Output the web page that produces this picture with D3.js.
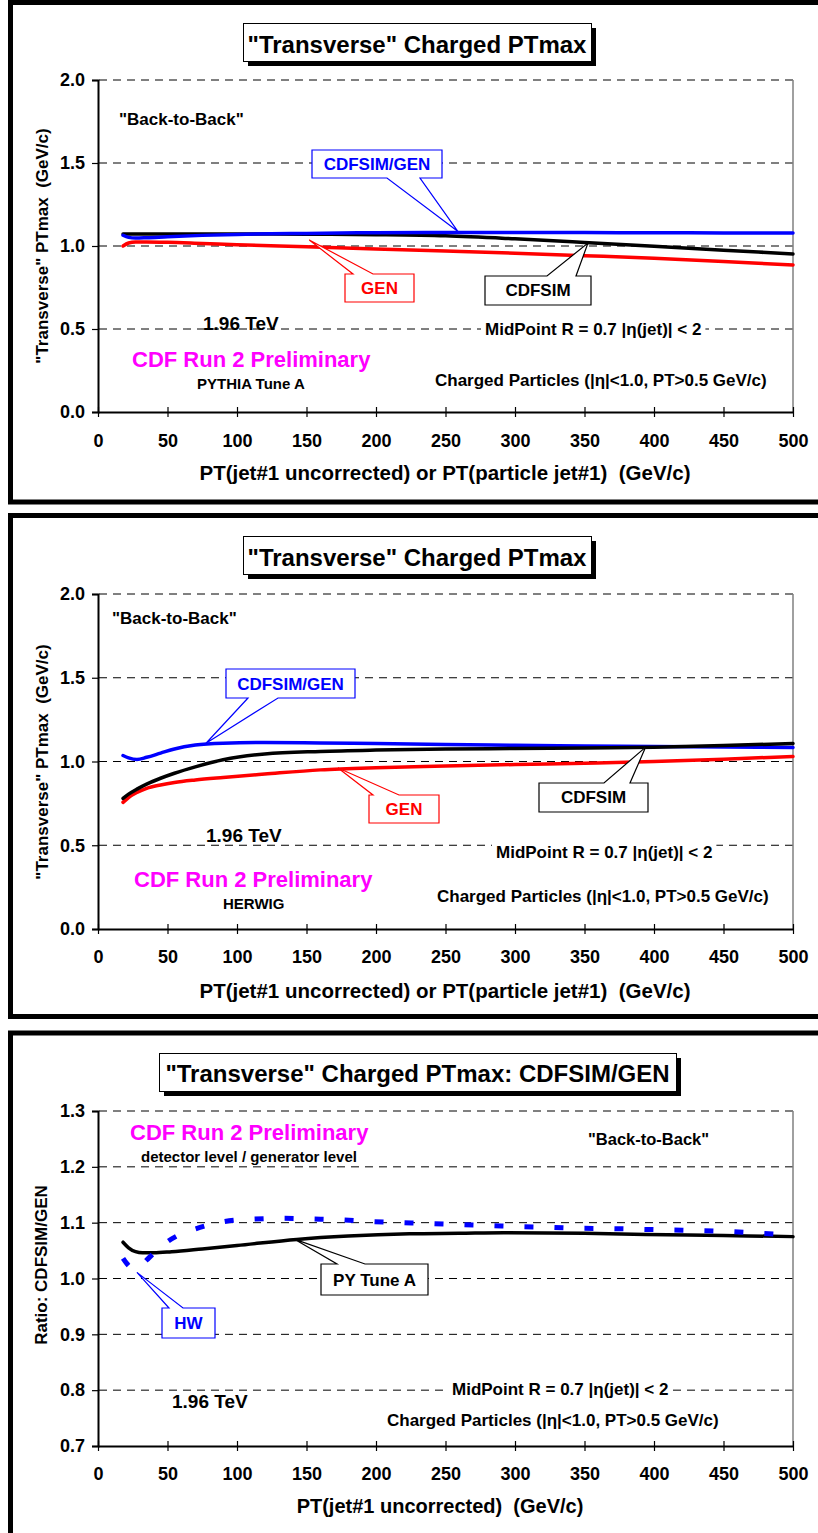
<!DOCTYPE html>
<html>
<head>
<meta charset="utf-8">
<script src="https://cdn.jsdelivr.net/npm/d3@7"></script>
<style>
  body { margin: 0; background: #fff; }
  svg text { font-family: "Liberation Sans", Arial, Helvetica, sans-serif; font-weight: bold; white-space: pre; }
</style>
</head>
<body>
<svg id="chart" width="818" height="1533"></svg>
<script>
// ---- shared axis values ----
const xTickValues = [0, 50, 100, 150, 200, 250, 300, 350, 400, 450, 500];
const ptmaxTicks = [0.0, 0.5, 1.0, 1.5, 2.0];
const ratioTicks = [0.7, 0.8, 0.9, 1.0, 1.1, 1.2, 1.3];

// ---- PYTHIA Tune A: PTmax vs leading jet PT ----
const ptPythia = [18, 22, 27, 35, 50, 75, 100, 150, 200, 250, 300, 350, 400, 450, 500];
const pythiaRatio = [1.065, 1.052, 1.048, 1.050, 1.056, 1.064, 1.070, 1.076, 1.080, 1.082, 1.082, 1.081, 1.080, 1.079, 1.078];
const pythiaCdfsim = [1.072, 1.072, 1.072, 1.072, 1.073, 1.073, 1.072, 1.071, 1.068, 1.061, 1.043, 1.021, 0.998, 0.975, 0.952];
const pythiaGen = [1.000, 1.018, 1.024, 1.024, 1.022, 1.015, 1.008, 0.995, 0.982, 0.970, 0.957, 0.942, 0.926, 0.906, 0.886];

// ---- HERWIG: PTmax vs leading jet PT ----
const ptHerwig = [18, 22, 28, 35, 45, 55, 70, 90, 120, 160, 200, 250, 300, 350, 400, 450, 500];
const herwigRatio = [1.036, 1.022, 1.012, 1.025, 1.050, 1.075, 1.098, 1.109, 1.113, 1.111, 1.107, 1.102, 1.097, 1.093, 1.090, 1.087, 1.084];
const herwigCdfsim = [0.780, 0.805, 0.835, 0.865, 0.900, 0.930, 0.968, 1.010, 1.045, 1.060, 1.068, 1.074, 1.078, 1.081, 1.085, 1.095, 1.108];
const herwigGen = [0.756, 0.785, 0.815, 0.840, 0.860, 0.875, 0.890, 0.905, 0.925, 0.950, 0.963, 0.973, 0.982, 0.990, 1.000, 1.014, 1.030];

// ---- CDFSIM/GEN ratio comparison ----
const ptRatioHW = [18, 21, 25, 30, 35, 42, 50, 60, 69, 80, 91, 112, 133, 154, 177, 198, 219, 241, 262, 284, 305, 326, 348, 370, 391, 413, 434, 456, 477, 500];
const ratioHW = [1.036, 1.026, 1.018, 1.021, 1.033, 1.050, 1.066, 1.080, 1.088, 1.096, 1.102, 1.1065, 1.1077, 1.1065, 1.1048, 1.1018, 1.100, 1.0982, 1.0964, 1.0946, 1.0929, 1.0917, 1.0899, 1.0893, 1.0881, 1.0869, 1.0857, 1.0839, 1.081, 1.078];
const ptRatioPY = [18, 22, 27, 32, 40, 53, 75, 100, 143, 180, 224, 260, 292, 350, 394, 450, 500];
const ratioPY = [1.065, 1.055, 1.048, 1.046, 1.046, 1.048, 1.053, 1.059, 1.070, 1.076, 1.080, 1.081, 1.082, 1.081, 1.079, 1.077, 1.075];

const BLUE = "#0000ff", RED = "#ff0000", MAGENTA = "#ff00ff";
const svg = d3.select("#chart");
const zip = (xs, ys) => xs.map((v, i) => [v, ys[i]]);

// Outer chart frames (thick black borders, running off the right edge)
[[2.5, 499.5], [515.5, 501], [1033, 560]].forEach(([top, h]) => {
  svg.append("rect").attr("x", 10.5).attr("y", top).attr("width", 900).attr("height", h)
    .attr("fill", "none").attr("stroke", "#000").attr("stroke-width", 5);
});

function text(g, x, y, str, size, opts = {}) {
  const t = g.append("text").attr("x", x).attr("y", y).text(str)
    .attr("font-size", size).attr("fill", opts.color || "#000")
    .attr("text-anchor", opts.anchor || "start");
  if (opts.fit) t.attr("textLength", opts.fit).attr("lengthAdjust", "spacingAndGlyphs");
  return t;
}

function labelWithBackground(g, x, y, str, size) {
  const grp = g.append("g");
  const r = grp.append("rect").attr("fill", "#fff");
  const t = text(grp, x, y, str, size);
  const bb = t.node().getBBox();
  r.attr("x", bb.x - 4).attr("y", bb.y).attr("width", bb.width + 8).attr("height", bb.height);
}

function titleBox(g, box, str, baseline) {
  const [bx, by, bw, bh] = box;
  g.append("rect").attr("x", bx + 5).attr("y", by + 5).attr("width", bw).attr("height", bh).attr("fill", "#000");
  g.append("rect").attr("x", bx + 0.5).attr("y", by + 0.5).attr("width", bw).attr("height", bh)
    .attr("fill", "#fff").attr("stroke", "#000").attr("stroke-width", 1);
  text(g, bx + bw / 2, baseline, str, 24, { anchor: "middle" });
}

// Rectangular callout with a wedge pointing at a data location
function callout(g, c, x, y) {
  const [bx, by, bw, bh] = c.box;
  const [tx, ty] = [x(c.tip[0]), y(c.tip[1])];
  const [b1, b2] = c.base;
  let d;
  if (c.side === "bottom") {
    d = `M${bx},${by}H${bx + bw}V${by + bh}H${b2}L${tx},${ty}L${b1},${by + bh}H${bx}Z`;
  } else {
    d = `M${bx},${by}H${b1}L${tx},${ty}L${b2},${by}H${bx + bw}V${by + bh}H${bx}Z`;
  }
  g.append("path").attr("d", d).attr("fill", "#fff").attr("stroke", c.color)
    .attr("stroke-width", 1.2).attr("stroke-linejoin", "miter");
  text(g, bx + bw / 2, c.baseline, c.text, 17, { anchor: "middle", color: c.color });
}

function panel(cfg) {
  const g = svg.append("g");
  const x = d3.scaleLinear().domain([0, 500]).range([98, 793]);
  const y = d3.scaleLinear().domain(cfg.yDomain).range([cfg.bottom, cfg.top]);

  // dashed gridlines
  g.append("g").selectAll("line").data(cfg.yTicks.slice(1)).join("line")
    .attr("x1", 99).attr("x2", 793).attr("y1", d => y(d)).attr("y2", d => y(d))
    .attr("stroke", "#000").attr("stroke-width", 1).attr("stroke-dasharray", "8,6");
  // right edge of plot area
  g.append("line").attr("x1", 793).attr("x2", 793).attr("y1", cfg.top).attr("y2", cfg.bottom)
    .attr("stroke", "#808080").attr("stroke-width", 1.5);

  // y axis
  const ya = g.append("g").attr("transform", "translate(98,0)")
    .call(d3.axisLeft(y).tickValues(cfg.yTicks).tickFormat(d3.format(".1f")).tickSize(6).tickPadding(7));
  ya.select(".domain").attr("stroke", "#000").attr("stroke-width", 2);
  ya.selectAll(".tick line").attr("stroke", "#000").attr("stroke-width", 1.2);
  ya.selectAll(".tick text").attr("font-size", 18).attr("font-family", null).attr("fill", "#000");

  // x axis (ticks cross the axis line)
  const xa = g.append("g").attr("transform", `translate(0,${cfg.bottom})`)
    .call(d3.axisBottom(x).tickValues(xTickValues).tickSize(5).tickSizeOuter(0));
  xa.select(".domain").attr("stroke", "#000").attr("stroke-width", 2);
  xa.selectAll(".tick line").attr("y1", -5).attr("y2", 5).attr("stroke", "#000").attr("stroke-width", 1.2);
  xa.selectAll(".tick text").attr("font-size", 18).attr("font-family", null).attr("fill", "#000")
    .attr("y", cfg.tickBaseline - cfg.bottom).attr("dy", 0);

  // axis titles
  text(g, cfg.xTitleX, cfg.xTitleBaseline, cfg.xTitle, cfg.xTitleSize, { anchor: "middle" });
  text(g, 0, 0, cfg.yTitle, cfg.yTitleSize, { anchor: "middle" })
    .attr("transform", `translate(${cfg.yTitleX},${cfg.yTitleY}) rotate(-90)`);

  // data lines
  const line = d3.line().x(d => x(d[0])).y(d => y(d[1])).curve(d3.curveMonotoneX);
  cfg.series.forEach(s => {
    g.append("path").datum(zip(s.x, s.y)).attr("d", line).attr("fill", "none")
      .attr("stroke", s.color).attr("stroke-width", s.width || 3.5)
      .attr("stroke-dasharray", s.dash || null)
      .attr("stroke-linecap", s.dash ? "butt" : "round").attr("stroke-linejoin", "round");
  });

  titleBox(g, cfg.titleBox, cfg.title, cfg.titleBaseline);
  cfg.labels.forEach(l => {
    if (l.bg) labelWithBackground(g, l.x, l.y, l.t, l.s);
    else text(g, l.x, l.y, l.t, l.s, { color: l.c });
  });
  cfg.callouts.forEach(c => callout(g, c, x, y));
}

const midPoint = "MidPoint R = 0.7 |\u03b7(jet)| < 2";
const charged = "Charged Particles (|\u03b7|<1.0, PT>0.5 GeV/c)";
const xTitleFull = "PT(jet#1 uncorrected) or PT(particle jet#1)  (GeV/c)";

// PYTHIA Tune A
panel({
  yDomain: [0, 2], yTicks: ptmaxTicks, top: 80, bottom: 412, tickBaseline: 447,
  xTitle: xTitleFull, xTitleX: 445, xTitleBaseline: 480, xTitleSize: 20.5,
  yTitle: "\"Transverse\" PTmax  (GeV/c)", yTitleX: 48, yTitleY: 246, yTitleSize: 17,
  title: "\"Transverse\" Charged PTmax", titleBox: [243, 23, 348, 38], titleBaseline: 53,
  series: [
    { x: ptPythia, y: pythiaGen, color: RED },
    { x: ptPythia, y: pythiaCdfsim, color: "#000" },
    { x: ptPythia, y: pythiaRatio, color: BLUE }
  ],
  labels: [
    { x: 119, y: 125, t: "\"Back-to-Back\"", s: 17 },
    { x: 203, y: 330, t: "1.96 TeV", s: 19 },
    { x: 485, y: 335, t: midPoint, s: 17, bg: true },
    { x: 132, y: 367, t: "CDF Run 2 Preliminary", s: 22, c: MAGENTA },
    { x: 197, y: 389, t: "PYTHIA Tune A", s: 15 },
    { x: 435, y: 386, t: charged, s: 17 }
  ],
  callouts: [
    { box: [312, 150, 130, 28], side: "bottom", base: [387, 420], tip: [259, 1.087], color: BLUE, text: "CDFSIM/GEN", baseline: 170 },
    { box: [345, 274, 69, 28], side: "top", base: [353, 373], tip: [152, 1.036], color: RED, text: "GEN", baseline: 294 },
    { box: [485, 276, 106, 29], side: "top", base: [547, 576], tip: [352.5, 1.018], color: "#000", text: "CDFSIM", baseline: 296 }
  ]
});

// HERWIG
panel({
  yDomain: [0, 2], yTicks: ptmaxTicks, top: 594, bottom: 929, tickBaseline: 963,
  xTitle: xTitleFull, xTitleX: 445, xTitleBaseline: 998, xTitleSize: 20.5,
  yTitle: "\"Transverse\" PTmax  (GeV/c)", yTitleX: 48, yTitleY: 762, yTitleSize: 17,
  title: "\"Transverse\" Charged PTmax", titleBox: [243, 536, 348, 38], titleBaseline: 566,
  series: [
    { x: ptHerwig, y: herwigGen, color: RED },
    { x: ptHerwig, y: herwigRatio, color: BLUE },
    { x: ptHerwig, y: herwigCdfsim, color: "#000" }
  ],
  labels: [
    { x: 112, y: 624, t: "\"Back-to-Back\"", s: 17 },
    { x: 206, y: 842, t: "1.96 TeV", s: 19 },
    { x: 496, y: 858, t: midPoint, s: 17, bg: true },
    { x: 134, y: 887, t: "CDF Run 2 Preliminary", s: 22, c: MAGENTA },
    { x: 223, y: 909, t: "HERWIG", s: 15 },
    { x: 437, y: 902, t: charged, s: 17 }
  ],
  callouts: [
    { box: [226, 669, 129, 29], side: "bottom", base: [248, 278], tip: [77.7, 1.109], color: BLUE, text: "CDFSIM/GEN", baseline: 690 },
    { box: [369, 795, 70, 28], side: "top", base: [373, 399], tip: [172.7, 0.961], color: RED, text: "GEN", baseline: 815 },
    { box: [539, 783, 109, 29], side: "top", base: [604, 630], tip: [394, 1.086], color: "#000", text: "CDFSIM", baseline: 803 }
  ]
});

// CDFSIM/GEN ratios
panel({
  yDomain: [0.7, 1.3], yTicks: ratioTicks, top: 1111, bottom: 1446, tickBaseline: 1480,
  xTitle: "PT(jet#1 uncorrected)  (GeV/c)", xTitleX: 440, xTitleBaseline: 1513, xTitleSize: 20,
  yTitle: "Ratio: CDFSIM/GEN", yTitleX: 47, yTitleY: 1265, yTitleSize: 17,
  title: "\"Transverse\" Charged PTmax: CDFSIM/GEN", titleBox: [159, 1053, 517, 38], titleBaseline: 1082,
  series: [
    { x: ptRatioPY, y: ratioPY, color: "#000" },
    { x: ptRatioHW, y: ratioHW, color: BLUE, width: 5, dash: "9,21" }
  ],
  labels: [
    { x: 130, y: 1140, t: "CDF Run 2 Preliminary", s: 22, c: MAGENTA },
    { x: 141, y: 1162, t: "detector level / generator level", s: 15 },
    { x: 588, y: 1145, t: "\"Back-to-Back\"", s: 16.5 },
    { x: 172, y: 1408, t: "1.96 TeV", s: 19 },
    { x: 452, y: 1395, t: midPoint, s: 17, bg: true },
    { x: 387, y: 1426, t: charged, s: 17 }
  ],
  callouts: [
    { box: [321, 1264, 107, 31], side: "top", base: [337, 365], tip: [141.7, 1.070], color: "#000", text: "PY Tune A", baseline: 1286 },
    { box: [162, 1308, 53, 30], side: "top", base: [169, 183], tip: [28, 1.011], color: BLUE, text: "HW", baseline: 1329 }
  ]
});
</script>
</body>
</html>
